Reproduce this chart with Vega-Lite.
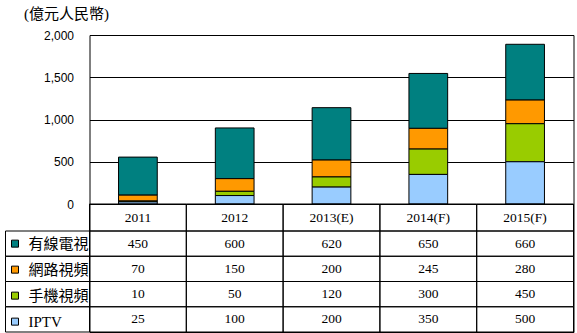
{
  "$schema": "https://vega.github.io/schema/vega-lite/v6.json",
  "padding": {"left": 4.5, "top": 5, "right": 0, "bottom": 0},
  "bounds": "flush",
  "spacing": 0,
  "config": {"view": {"stroke": null}, "font": "Liberation Serif"},
  "datasets": {
    "d": [
      {"year": "2011", "series": "有線電視", "value": 450},
      {"year": "2012", "series": "有線電視", "value": 600},
      {"year": "2013(E)", "series": "有線電視", "value": 620},
      {"year": "2014(F)", "series": "有線電視", "value": 650},
      {"year": "2015(F)", "series": "有線電視", "value": 660},
      {"year": "2011", "series": "網路視頻", "value": 70},
      {"year": "2012", "series": "網路視頻", "value": 150},
      {"year": "2013(E)", "series": "網路視頻", "value": 200},
      {"year": "2014(F)", "series": "網路視頻", "value": 245},
      {"year": "2015(F)", "series": "網路視頻", "value": 280},
      {"year": "2011", "series": "手機視頻", "value": 10},
      {"year": "2012", "series": "手機視頻", "value": 50},
      {"year": "2013(E)", "series": "手機視頻", "value": 120},
      {"year": "2014(F)", "series": "手機視頻", "value": 300},
      {"year": "2015(F)", "series": "手機視頻", "value": 450},
      {"year": "2011", "series": "IPTV", "value": 25},
      {"year": "2012", "series": "IPTV", "value": 100},
      {"year": "2013(E)", "series": "IPTV", "value": 200},
      {"year": "2014(F)", "series": "IPTV", "value": 350},
      {"year": "2015(F)", "series": "IPTV", "value": 500}
    ],
    "s": [
      {"series": "IPTV", "stackOrder": 1},
      {"series": "手機視頻", "stackOrder": 2},
      {"series": "網路視頻", "stackOrder": 3},
      {"series": "有線電視", "stackOrder": 4}
    ]
  },
  "hconcat": [
    {
      "width": 84,
      "height": 297,
      "data": {"name": "d"},
      "transform": [{"aggregate": [], "groupby": ["series"]}],
      "mark": {"type": "rect", "filled": false, "stroke": "black", "strokeWidth": 1},
      "encoding": {
        "y": {
          "field": "series",
          "type": "nominal",
          "scale": {"domain": ["有線電視", "網路視頻", "手機視頻", "IPTV"], "range": [196, 297], "paddingInner": 0, "paddingOuter": 0},
          "axis": null
        }
      }
    },
    {
      "width": 484,
      "height": 297,
      "view": {"stroke": "black", "strokeWidth": 1},
      "data": {"name": "d"},
      "encoding": {
        "x": {
          "field": "year",
          "type": "nominal",
          "scale": {"domain": ["2011", "2012", "2013(E)", "2014(F)", "2015(F)"], "paddingInner": 0, "paddingOuter": 0},
          "axis": null
        }
      },
      "layer": [
        {
          "transform": [
            {"lookup": "series", "from": {"data": {"name": "s"}, "key": "series", "fields": ["stackOrder"]}}
          ],
          "mark": {"type": "bar", "width": {"band": 0.4}, "stroke": "black", "strokeWidth": 1},
          "encoding": {
            "y": {
              "field": "value",
              "type": "quantitative",
              "stack": "zero",
              "scale": {"domain": [0, 2000], "range": [169, 0], "nice": false},
              "axis": {
                "values": [0, 500, 1000, 1500, 2000],
                "format": ",d",
                "grid": true,
                "gridColor": "black",
                "gridOpacity": 1,
                "gridWidth": 1,
                "domain": false,
                "ticks": false,
                "labelPadding": 16,
                "labelFont": "Liberation Sans",
                "labelFontSize": 12,
                "labelColor": "black",
                "title": "(億元人民幣)",
                "titleAngle": 0,
                "titleAlign": "left",
                "titleBaseline": "top",
                "titleX": -66,
                "titleY": -29,
                "titleFont": "Liberation Serif, Noto Sans CJK TC",
                "titleFontSize": 15,
                "titleFontWeight": "normal",
                "titleColor": "black"
              }
            },
            "order": {"field": "stackOrder", "type": "quantitative", "sort": "ascending"},
            "color": {
              "field": "series",
              "type": "nominal",
              "scale": {"domain": ["有線電視", "網路視頻", "手機視頻", "IPTV"], "range": ["#008080", "#FF9900", "#99CC00", "#99CCFF"]},
              "legend": {
                "orient": "none",
                "legendX": 2,
                "legendY": 196,
                "title": null,
                "symbolType": "square",
                "symbolSize": 49,
                "symbolStrokeColor": "black",
                "symbolStrokeWidth": 1,
                "symbolOpacity": 1,
                "labelFont": "Liberation Serif, Noto Sans CJK TC",
                "labelFontSize": 15,
                "labelColor": "black",
                "labelOffset": 6,
                "labelLimit": 200,
                "clipHeight": 25.25,
                "rowPadding": 0,
                "padding": 0
              }
            }
          }
        },
        {
          "transform": [{"aggregate": [], "groupby": ["year"]}],
          "encoding": {
            "y": {
              "datum": "hdr",
              "type": "nominal",
              "scale": {"domain": ["hdr"], "range": [169, 196], "paddingInner": 0, "paddingOuter": 0},
              "axis": null
            }
          },
          "layer": [
            {"mark": {"type": "rect", "filled": false, "stroke": "black", "strokeWidth": 1}},
            {
              "mark": {"type": "text", "font": "Liberation Serif", "fontSize": 13.5, "color": "black"},
              "encoding": {"text": {"field": "year", "type": "nominal"}}
            }
          ]
        },
        {
          "encoding": {
            "y": {
              "field": "series",
              "type": "nominal",
              "scale": {"domain": ["有線電視", "網路視頻", "手機視頻", "IPTV"], "range": [196, 297], "paddingInner": 0, "paddingOuter": 0},
              "axis": null
            }
          },
          "layer": [
            {"mark": {"type": "rect", "filled": false, "stroke": "black", "strokeWidth": 1}},
            {
              "mark": {"type": "text", "font": "Liberation Serif", "fontSize": 13.5, "color": "black"},
              "encoding": {"text": {"field": "value", "type": "quantitative", "format": "d"}}
            }
          ]
        }
      ],
      "resolve": {"scale": {"y": "independent"}, "axis": {"y": "independent"}}
    }
  ]
}
